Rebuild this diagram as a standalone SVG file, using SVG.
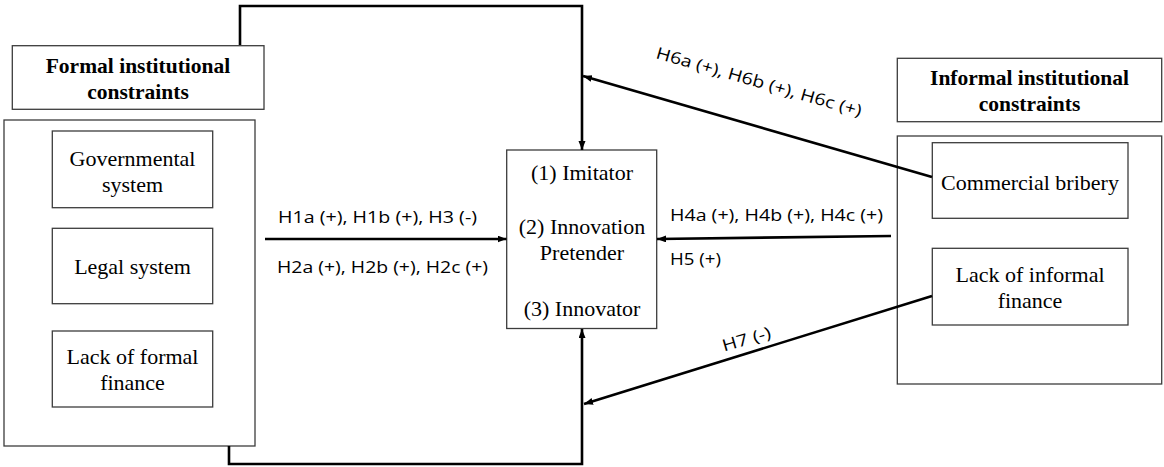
<svg xmlns="http://www.w3.org/2000/svg" width="1164" height="467" viewBox="0 0 1164 467">
<style>
.box{fill:#fff;stroke:#3c3c3c;stroke-width:1.3}
.t{font-family:"Liberation Serif","Times New Roman",serif;font-size:22px;fill:#000;text-anchor:middle}
.h{font-family:"Liberation Serif","Times New Roman",serif;font-size:21.5px;font-weight:bold;fill:#000;text-anchor:middle}
.lab{font-family:"Open Sans","Noto Sans",sans-serif;font-size:16.5px;fill:#000}
.con{fill:none;stroke:#000;stroke-width:2.6}
</style>
<defs>
<marker id="arr" markerUnits="userSpaceOnUse" markerWidth="10" markerHeight="8" refX="9" refY="3.5" orient="auto">
<path d="M0,0 L9,3.5 L0,7 z" fill="#000"/>
</marker>
</defs>
<rect width="1164" height="467" fill="#fff"/>

<g id="formal-header">
<rect class="box" x="12.3" y="45.7" width="251.7" height="63.6"/>
<text class="h" x="138" y="72.7">Formal institutional</text>
<text class="h" x="138" y="99.3">constraints</text>
</g>
<g id="formal-group">
<rect class="box" x="4" y="120" width="251" height="326"/>
</g>
<g id="governmental">
<rect class="box" x="52.3" y="131" width="160.4" height="76.7"/>
<text class="t" x="132.5" y="165.7">Governmental</text>
<text class="t" x="132.5" y="191.7">system</text>
</g>
<g id="legal">
<rect class="box" x="52.3" y="228.3" width="160.4" height="75.4"/>
<text class="t" x="132.5" y="273.7">Legal system</text>
</g>
<g id="formal-finance">
<rect class="box" x="52.3" y="331" width="160.4" height="76"/>
<text class="t" x="132.5" y="363.7">Lack of formal</text>
<text class="t" x="132.5" y="389.7">finance</text>
</g>

<g id="outcome">
<rect class="box" x="506.7" y="150" width="150" height="178.5"/>
<text class="t" x="582" y="180">(1) Imitator</text>
<text class="t" x="582" y="234">(2) Innovation</text>
<text class="t" x="582" y="260">Pretender</text>
<text class="t" x="582" y="315.7">(3) Innovator</text>
</g>

<g id="informal-header">
<rect class="box" x="897.3" y="58.3" width="264.4" height="63.4"/>
<text class="h" x="1029.5" y="85">Informal institutional</text>
<text class="h" x="1029.5" y="110.5">constraints</text>
</g>
<g id="informal-group">
<rect class="box" x="897.3" y="136" width="264.4" height="248"/>
</g>
<g id="bribery">
<rect class="box" x="932.3" y="142.7" width="195.7" height="75.6"/>
<text class="t" x="1030" y="190">Commercial bribery</text>
</g>
<g id="informal-finance">
<rect class="box" x="932.3" y="248.3" width="195.7" height="76.7"/>
<text class="t" x="1030" y="281.7">Lack of informal</text>
<text class="t" x="1030" y="308.3">finance</text>
</g>

<g id="connectors">
<path class="con" d="M240,45 V6 H582 V150" marker-end="url(#arr)"/>
<path class="con" d="M229,446 V464 H582 V329" marker-end="url(#arr)"/>
<path class="con" d="M265,239 H506.5" marker-end="url(#arr)"/>
<path class="con" d="M891,236 L657,239" marker-end="url(#arr)"/>
<path class="con" d="M932,177 L583,76" marker-end="url(#arr)"/>
<path class="con" d="M932,296 L584,404" marker-end="url(#arr)"/>
<text class="lab" x="278" y="223" textLength="199" lengthAdjust="spacingAndGlyphs">H1a (+), H1b (+), H3 (-)</text>
<text class="lab" x="277" y="272.5" textLength="211" lengthAdjust="spacingAndGlyphs">H2a (+), H2b (+), H2c (+)</text>
<text class="lab" x="670" y="221" textLength="213" lengthAdjust="spacingAndGlyphs">H4a (+), H4b (+), H4c (+)</text>
<text class="lab" x="670" y="265" textLength="51" lengthAdjust="spacingAndGlyphs">H5 (+)</text>
<text class="lab" transform="translate(655,58) rotate(16)" x="0" y="0" textLength="213" lengthAdjust="spacingAndGlyphs">H6a (+), H6b (+), H6c (+)</text>
<text class="lab" transform="translate(724,351.5) rotate(-16)" x="0" y="0" textLength="50" lengthAdjust="spacingAndGlyphs">H7 (-)</text>
</g>
</svg>
